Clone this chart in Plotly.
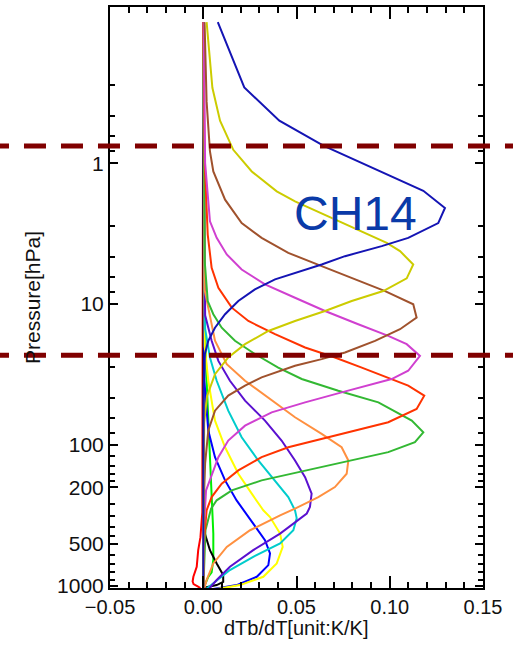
import math
import plotly.graph_objects as go

# ---------------- data (pressure in hPa, dTb/dT in K/K) ----------------
p_ch1 = [0.1, 300, 450, 557, 731, 860, 929, 970, 1005, 1033]
v_ch1 = [0, -0.0005, -0.0015, -0.0027, -0.0035, -0.0053, -0.0057, -0.0052, -0.003, -0.0015]

p_ch2 = [0.1, 10, 35, 80, 150, 250, 426, 650, 800, 860, 958, 1000, 1100]
v_ch2 = [0, 0.0005, 0.0018, 0.003, 0.0036, 0.0045, 0.0054, 0.0054, 0.0045, 0.0027, 0.0012, 0, 0]

p_ch3 = [0.1, 300, 425.6, 556.8, 691.7, 836.6, 933, 984, 1020, 1100]
v_ch3 = [0, 0.0002, 0.0009, 0.0036, 0.0072, 0.0107, 0.0107, 0.0072, 0.0018, 0]

p_ch4 = [0.1, 35, 78.9, 121.9, 178.1, 247, 360.7, 473, 587.5, 711, 860, 985, 1050]
v_ch4 = [0, 0.0006, 0.0027, 0.0063, 0.0117, 0.0179, 0.0268, 0.0331, 0.0358, 0.0349, 0.0287, 0.0179, 0.0054]

p_ch5 = [0.1, 20, 35, 67.1, 103.6, 159.8, 221.2, 290, 323.9, 424.5, 527.7, 691.7, 860, 985, 1050]
v_ch5 = [0, 0.0008, 0.0027, 0.0063, 0.0117, 0.0188, 0.026, 0.0322, 0.0358, 0.0412, 0.0426, 0.0394, 0.0322, 0.0197, 0.0072]

p_ch6 = [0.1, 15, 23.9, 35, 57, 88.1, 128.6, 178.1, 233.8, 290.4, 330, 402, 499, 620.9, 771, 957, 1050]
v_ch6 = [0, 0.001, 0.0036, 0.0072, 0.0134, 0.0206, 0.0295, 0.0385, 0.0456, 0.0492, 0.0501, 0.0483, 0.0412, 0.0268, 0.0143, 0.0054, 0.0015]

p_ch7 = [0.1, 12, 18.2, 25.3, 35, 48.4, 67.1, 92.9, 128.6, 168.9, 221.2, 275.2, 306, 424.5, 556.8, 730.5, 907, 1050]
v_ch7 = [0, 0.001, 0.0045, 0.0081, 0.0143, 0.0224, 0.0331, 0.042, 0.0492, 0.0546, 0.0581, 0.0572, 0.0555, 0.0412, 0.0268, 0.0143, 0.0072, 0.003]

p_ch8 = [0.1, 8, 18.2, 26.7, 35, 48.4, 63.5, 83.3, 103.6, 128.6, 159.8, 198.6, 233.8, 282.4, 315, 402, 527.7, 691.7, 907, 1050]
v_ch8 = [0, 0.0008, 0.0063, 0.0126, 0.0224, 0.0367, 0.0492, 0.0635, 0.0742, 0.0778, 0.0769, 0.0706, 0.0617, 0.0492, 0.0412, 0.0251, 0.0126, 0.0054, 0.0018, 0.0005]

p_ch9 = [0.1, 5, 9.51, 11.8, 14.7, 18.2, 22.6, 28.2, 34, 41.2, 49.8, 67.1, 81.2, 95.5, 112.3, 128.6, 151.4, 178.1, 209.6, 246.6, 282.3, 400, 1100]
v_ch9 = [0, 0.0008, 0.0024, 0.0054, 0.0099, 0.017, 0.0277, 0.0402, 0.0528, 0.0724, 0.0939, 0.1118, 0.118, 0.1135, 0.0992, 0.0796, 0.0546, 0.0313, 0.0153, 0.0072, 0.0042, 0.0012, 0]

p_ch10 = [0.1, 1.0, 3.21, 5.53, 7.65, 10.6, 13.17, 16.35, 20.3, 23.9, 28.2, 34.0, 37.9, 44.6, 55.4, 68.9, 78.9, 90.4, 103.6, 121.9, 151.4, 188, 233.8, 290.4, 500, 1100]
v_ch10 = [0, 0.0008, 0.0024, 0.0045, 0.0081, 0.0153, 0.0242, 0.0385, 0.0546, 0.0706, 0.085, 0.101, 0.1099, 0.1185, 0.1144, 0.0992, 0.0814, 0.0635, 0.0456, 0.0313, 0.0188, 0.0099, 0.0045, 0.0018, 0.0003, 0]

p_ch11 = [0.1, 1.0, 1.866, 2.585, 3.39, 4.44, 5.68, 7.24, 9.01, 11.19, 13.9, 16.8, 19.24, 23.3, 29.7, 34.0, 42.3, 49.8, 58.6, 72.8, 92.9, 121.9, 209.6, 400, 1100]
v_ch11 = [0.0002, 0.001, 0.0027, 0.0036, 0.0072, 0.0126, 0.0206, 0.0331, 0.0492, 0.0653, 0.0831, 0.0992, 0.1091, 0.1162, 0.1099, 0.101, 0.0742, 0.0546, 0.0367, 0.0224, 0.0134, 0.0081, 0.0015, 0.0003, 0]

p_ch12 = [0.1, 0.366, 0.826, 1.145, 1.815, 2.66, 3.39, 4.33, 5.38, 6.51, 8.08, 10.03, 12.48, 15.07, 18.23, 22.06, 24.56, 27.4, 33.1, 37.9, 44.6, 57, 78.9, 135, 250, 1100]
v_ch12 = [0.0007, 0.0018, 0.0036, 0.0054, 0.0117, 0.0206, 0.0313, 0.0456, 0.0635, 0.0796, 0.0975, 0.1126, 0.1144, 0.1055, 0.0921, 0.076, 0.0635, 0.0492, 0.0313, 0.0224, 0.0134, 0.0063, 0.0027, 0.001, 0.0003, 0]

p_ch13 = [0.1, 0.292, 0.5, 0.804, 1.145, 1.586, 1.866, 2.585, 3.68, 4.21, 5.23, 6.57, 8.08, 9.51, 11.19, 13.17, 15.5, 19.24, 23.9, 31.4, 45, 70, 1100]
v_ch13 = [0.0018, 0.0049, 0.009, 0.0161, 0.026, 0.0394, 0.0492, 0.0724, 0.0984, 0.1055, 0.1126, 0.1091, 0.0965, 0.0796, 0.0653, 0.0492, 0.0349, 0.0224, 0.0134, 0.0063, 0.002, 0.0005, 0]

p_ch14 = [0.1, 0.29, 0.5, 0.75, 1.57, 2.08, 2.66, 3.39, 3.88, 4.57, 5.23, 6.0, 6.68, 7.86, 9.51, 11.8, 14.7, 18.2, 22.5, 40, 1100]
v_ch14 = [0.0078, 0.022, 0.0408, 0.0644, 0.118, 0.1296, 0.126, 0.1099, 0.0957, 0.076, 0.0635, 0.0492, 0.0385, 0.0277, 0.0188, 0.0117, 0.0063, 0.0027, 0.0009, 0.0002, 0]

series = [
    (p_ch1, v_ch1, "#ff0000"),
    (p_ch2, v_ch2, "#00ee00"),
    (p_ch3, v_ch3, "#000000"),
    (p_ch4, v_ch4, "#0000ff"),
    (p_ch5, v_ch5, "#ffff00"),
    (p_ch6, v_ch6, "#00cccc"),
    (p_ch7, v_ch7, "#5a10d0"),
    (p_ch8, v_ch8, "#ff9040"),
    (p_ch9, v_ch9, "#33b833"),
    (p_ch10, v_ch10, "#ff3300"),
    (p_ch11, v_ch11, "#d040d0"),
    (p_ch12, v_ch12, "#a0522d"),
    (p_ch13, v_ch13, "#cccc00"),
    (p_ch14, v_ch14, "#1414b4"),
]

x_tickvals = [-0.05, 0.0, 0.05, 0.10, 0.15]
x_ticktext = ["\u22120.05", "0.00", "0.05", "0.10", "0.15"]
y_tickvals = [1, 10, 100, 200, 500, 1000]
y_ticktext = ["1", "10", "100", "200", "500", "1000"]
y_minor = [0.28, 0.46, 0.64, 0.82, 2.8, 4.6, 6.4, 8.2, 28, 46, 64, 82,
           120, 140, 160, 180, 260, 320, 380, 440, 600, 700, 800, 900]
dashed_levels = [0.756, 23.1]

FONT = "Liberation Sans, Arial, Helvetica, sans-serif"

fig = go.Figure()
for p, v, c in series:
    fig.add_trace(go.Scatter(x=v, y=p, mode="lines",
                             line=dict(color=c, width=2), showlegend=False,
                             hoverinfo="skip"))

for lev in dashed_levels:
    fig.add_shape(type="line", xref="paper", yref="y",
                  x0=-0.3298, x1=1.0804,
                  y0=lev, y1=lev,
                  line=dict(color="#800000", width=5, dash="22px,15px"),
                  layer="above")

fig.add_annotation(x=0.0814, y=math.log10(2.29), text="CH14", showarrow=False,
                   font=dict(family=FONT, size=48, color="#0a3aa8"))

# x-axis title placed as annotation for exact vertical position
fig.add_annotation(x=0.5, xref="paper", y=-0.068, yref="paper",
                   text="dTb/dT[unit:K/K]", showarrow=False,
                   xanchor="center", yanchor="middle", borderpad=0,
                   font=dict(family=FONT, size=20, color="#111111"))

fig.update_layout(
    width=513, height=645, autosize=False,
    margin=dict(l=110, r=30, t=5, b=57, pad=0),
    paper_bgcolor="white", plot_bgcolor="white",
    font=dict(family=FONT, size=21, color="#111111"),
    showlegend=False,
)
fig.update_xaxes(
    range=[-0.05, 0.15], showgrid=False, zeroline=False,
    showline=True, linecolor="black", linewidth=2, mirror="allticks",
    ticks="inside", ticklen=12, tickwidth=1.5, tickcolor="black",
    tickvals=x_tickvals, ticktext=x_ticktext,
    minor=dict(dtick=0.01, tick0=0, ticks="inside", ticklen=6, tickwidth=1.5, tickcolor="black", showgrid=False),
    tickfont=dict(size=20),
)
fig.update_yaxes(
    type="log", range=[math.log10(1033), math.log10(0.078)],
    showgrid=False, zeroline=False,
    showline=True, linecolor="black", linewidth=2, mirror="allticks",
    ticks="inside", ticklen=8, tickwidth=1.5, tickcolor="black",
    tickvals=y_tickvals, ticktext=y_ticktext,
    minor=dict(tickmode="array", tickvals=y_minor, ticks="inside", ticklen=5, tickwidth=1.5, tickcolor="black", showgrid=False),
    title=dict(text="Pressure[hPa]", standoff=11, font=dict(size=21)),
    tickfont=dict(size=21),
)

fig.write_html("out.html")
